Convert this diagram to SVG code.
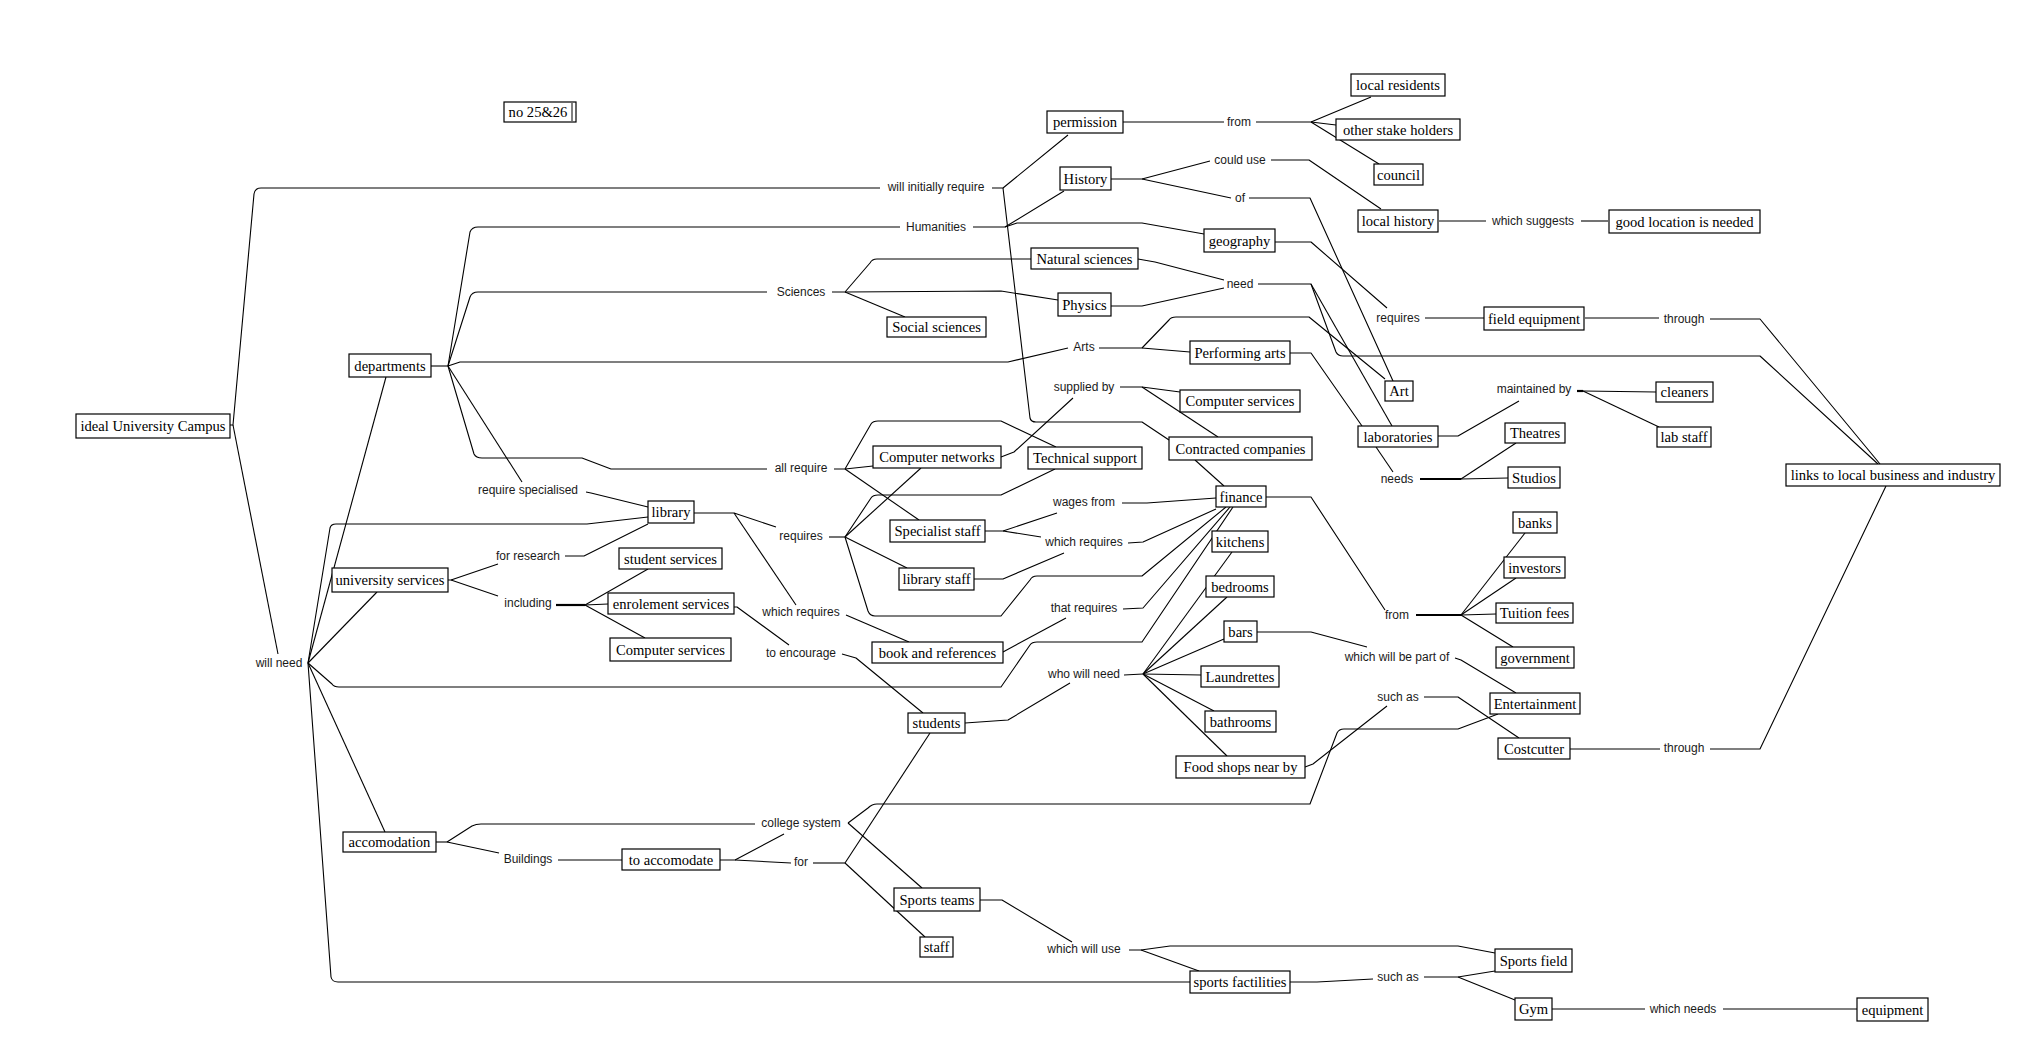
<svg xmlns="http://www.w3.org/2000/svg" width="2039" height="1061" viewBox="0 0 2039 1061">
<style>
.c path{fill:none;stroke:#000;stroke-width:1.1;stroke-linejoin:round}
.c path.t{stroke-width:2.2}
.n rect{fill:#fff;stroke:#000;stroke-width:1.2}
.n text{font-family:"Liberation Serif","Times New Roman",serif;font-size:14.6px;fill:#000;text-anchor:middle}
.l text{font-family:"Liberation Sans",Arial,sans-serif;font-size:12px;fill:#1a1a1a;text-anchor:middle}
</style>
<rect width="2039" height="1061" fill="#fff"/>
<g id="connectors" class="c">
<path d="M230,425 L233,425 L254,194 Q255,188 261,188 L880,188"/>
<path d="M233,425 L278,654"/>
<path d="M992,188 L1003,188 L1068,135"/>
<path d="M1003,188 L1030,418 Q1031,422 1036,422 L1142,422 L1169,440"/>
<path d="M1123,122 L1224,122"/>
<path d="M1256,122 L1311,122 L1371,97"/>
<path d="M1311,122 L1336,125"/>
<path d="M1311,122 L1379,164"/>
<path d="M1111,179 L1142,179 L1210,161"/>
<path d="M1142,179 L1231,198"/>
<path d="M1271,160 L1309,160 L1381,209"/>
<path d="M1249,198 L1310,198 L1393,381"/>
<path d="M1439,221 L1486,221"/>
<path d="M1581,221 L1608,221"/>
<path d="M431,366 L448,366"/>
<path d="M448,366 L470,232 Q472,227 478,227 L900,227"/>
<path d="M973,227 L1005,227 L1064,191"/>
<path d="M1005,227 L1017,223 L1142,223 L1204,234"/>
<path d="M1275,242 L1311,242 L1387,308"/>
<path d="M1425,318 L1484,318"/>
<path d="M1585,318 L1659,318"/>
<path d="M1710,319 L1760,319 L1880,464"/>
<path d="M448,366 L470,297 Q472,292 478,292 L767,292"/>
<path d="M832,292 L845,292 L870,263 Q872,259 877,259 L1031,259"/>
<path d="M845,292 L1001,291 L1058,300"/>
<path d="M845,292 L905,317"/>
<path d="M1138,259 L1155,262 L1224,280"/>
<path d="M1111,306 L1142,306 L1224,288"/>
<path d="M1258,284 L1311,284 L1336,352 Q1338,356 1343,356 L1760,356 L1878,464"/>
<path d="M1311,284 L1392,426"/>
<path d="M448,366 L460,362 L1008,362 L1068,348"/>
<path d="M1099,348 L1142,348 L1190,352"/>
<path d="M1142,348 L1169,320 Q1171,317 1176,317 L1309,317 L1385,379"/>
<path d="M1290,353 L1311,353 L1362,426"/>
<path d="M1438,436 L1458,436 L1519,401"/>
<path class="t" d="M1577,391 L1583,391"/>
<path d="M1583,391 L1656,392"/>
<path d="M1583,391 L1659,427"/>
<path d="M1376,447 L1393,472"/>
<path class="t" d="M1420,479 L1461,479"/>
<path d="M1461,479 L1516,443"/>
<path d="M1461,479 L1508,478"/>
<path d="M1001,457 L1014,452 L1073,398"/>
<path d="M1120,387 L1142,387 L1180,392"/>
<path d="M1142,387 L1218,437"/>
<path d="M1195,460 L1224,486"/>
<path d="M448,366 L474,454 Q476,458 482,458 L582,458 L611,469 L767,469"/>
<path d="M834,469 L845,469 L871,424 Q873,421 878,421 L1001,421 L1056,447"/>
<path d="M845,469 L873,466"/>
<path d="M845,469 L919,520"/>
<path d="M448,366 L522,482"/>
<path d="M586,492 L591,493 L648,507"/>
<path d="M308,663 L386,377"/>
<path d="M308,663 L377,592"/>
<path d="M308,663 L330,528 Q331,524 336,524 L587,524 L648,517"/>
<path d="M308,663 L332,684 Q334,687 339,687 L1001,687 L1030,645 Q1032,642 1037,642 L1142,642 L1233,507"/>
<path d="M308,663 L385,832"/>
<path d="M308,663 L331,977 Q332,982 338,982 L1190,982"/>
<path d="M448,580 L451,580 L498,564"/>
<path d="M451,580 L498,596"/>
<path d="M565,556 L584,556 L648,524"/>
<path class="t" d="M556,605 L585,605"/>
<path d="M585,605 L648,569"/>
<path d="M585,605 L608,604"/>
<path d="M585,605 L645,638"/>
<path d="M734,607 L737,607 L789,645"/>
<path d="M842,654 L856,658 L923,713"/>
<path d="M694,513 L734,513 L776,527"/>
<path d="M734,513 L796,605"/>
<path d="M846,615 L909,642"/>
<path d="M1003,652 L1066,618"/>
<path d="M1123,609 L1143,608 L1230,507"/>
<path d="M829,537 L845,537"/>
<path d="M845,537 L921,468"/>
<path d="M845,537 L871,498 Q873,495 878,495 L1001,495 L1055,469"/>
<path d="M845,537 L907,568"/>
<path d="M845,537 L868,611 Q870,616 875,616 L1001,616 L1030,580 Q1032,576 1037,576 L1142,576 L1226,507"/>
<path d="M985,531 L1003,531 L1057,513"/>
<path d="M1003,531 L1041,537"/>
<path d="M1122,503 L1147,503 L1216,498"/>
<path d="M1128,543 L1143,542 L1216,509"/>
<path d="M974,579 L1003,579 L1064,553"/>
<path d="M965,723 L1008,720 L1070,683"/>
<path d="M1124,675 L1143,674"/>
<path d="M1143,674 L1232,552"/>
<path d="M1143,674 L1227,597"/>
<path d="M1143,674 L1224,639"/>
<path d="M1143,674 L1201,675"/>
<path d="M1143,674 L1214,711"/>
<path d="M1143,674 L1227,756"/>
<path d="M1257,632 L1311,632 L1367,647"/>
<path d="M1455,658 L1461,660 L1516,693"/>
<path d="M1266,497 L1311,497 L1385,610"/>
<path class="t" d="M1416,615 L1461,615"/>
<path d="M1461,615 L1525,533"/>
<path d="M1461,615 L1516,578"/>
<path d="M1461,615 L1496,614"/>
<path d="M1461,615 L1513,647"/>
<path d="M1305,767 L1313,764 L1387,706"/>
<path d="M1424,697 L1458,697 L1519,738"/>
<path d="M1570,749 L1660,749"/>
<path d="M1710,749 L1760,749 L1886,486"/>
<path d="M436,842 L447,842"/>
<path d="M447,842 L472,826 Q476,824 481,824 L755,824"/>
<path d="M447,842 L499,853"/>
<path d="M558,860 L622,860"/>
<path d="M720,860 L735,860 L784,834"/>
<path d="M735,860 L791,863"/>
<path d="M848,823 L868,808 Q872,804 877,804 L1310,804 L1337,733 Q1339,729 1344,729 L1458,729 L1498,714"/>
<path d="M848,823 L922,888"/>
<path d="M813,863 L845,863"/>
<path d="M845,863 L930,733"/>
<path d="M845,863 L925,937"/>
<path d="M980,900 L1002,900 L1072,942"/>
<path d="M1129,950 L1141,950 L1170,946 L1458,946 L1495,953"/>
<path d="M1141,950 L1199,971"/>
<path d="M1290,982 L1317,982 L1373,979"/>
<path d="M1424,977 L1458,977 L1495,971"/>
<path d="M1458,977 L1515,1000"/>
<path d="M1552,1009 L1645,1009"/>
<path d="M1723,1009 L1857,1009"/>
</g>
<g id="labels" class="l">
<text x="936" y="191">will initially require</text>
<text x="1239" y="126">from</text>
<text x="1240" y="164">could use</text>
<text x="1240" y="202">of</text>
<text x="1533" y="225">which suggests</text>
<text x="936" y="231">Humanities</text>
<text x="801" y="296">Sciences</text>
<text x="1240" y="288">need</text>
<text x="1398" y="322">requires</text>
<text x="1684" y="323">through</text>
<text x="1084" y="351">Arts</text>
<text x="1084" y="391">supplied by</text>
<text x="1534" y="393">maintained by</text>
<text x="801" y="472">all require</text>
<text x="1397" y="483">needs</text>
<text x="1084" y="506">wages from</text>
<text x="528" y="494">require specialised</text>
<text x="801" y="540">requires</text>
<text x="1084" y="546">which requires</text>
<text x="528" y="560">for research</text>
<text x="528" y="607">including</text>
<text x="801" y="616">which requires</text>
<text x="1084" y="612">that requires</text>
<text x="1397" y="619">from</text>
<text x="801" y="657">to encourage</text>
<text x="1397" y="661">which will be part of</text>
<text x="279" y="667">will need</text>
<text x="1084" y="678">who will need</text>
<text x="1398" y="701">such as</text>
<text x="1684" y="752">through</text>
<text x="801" y="827">college system</text>
<text x="528" y="863">Buildings</text>
<text x="801" y="866">for</text>
<text x="1084" y="953">which will use</text>
<text x="1398" y="981">such as</text>
<text x="1683" y="1013">which needs</text>
</g>
<g id="n-campus" class="n"><rect x="76" y="414" width="154" height="24"/><text x="153" y="431">ideal University Campus</text></g>
<g id="n-no2526" class="n"><rect x="504" y="102" width="72" height="20"/><line x1="572" y1="103" x2="572" y2="121" stroke="#000"/><text x="538" y="117">no 25&amp;26</text></g>
<g id="n-departments" class="n"><rect x="349" y="354" width="82" height="23"/><text x="390" y="370.5">departments</text></g>
<g id="n-permission" class="n"><rect x="1047" y="111" width="76" height="22"/><text x="1085" y="127">permission</text></g>
<g id="n-local-residents" class="n"><rect x="1351" y="74" width="94" height="22"/><text x="1398" y="90">local residents</text></g>
<g id="n-other-stake-holders" class="n"><rect x="1336" y="119" width="124" height="21"/><text x="1398" y="134.5">other stake holders</text></g>
<g id="n-council" class="n"><rect x="1374" y="164" width="49" height="21"/><text x="1398.5" y="179.5">council</text></g>
<g id="n-history" class="n"><rect x="1060" y="167" width="51" height="23"/><text x="1085.5" y="183.5">History</text></g>
<g id="n-local-history" class="n"><rect x="1358" y="210" width="80" height="22"/><text x="1398" y="226">local history</text></g>
<g id="n-good-location" class="n"><rect x="1609" y="210" width="151" height="23"/><text x="1684.5" y="226.5">good location is needed</text></g>
<g id="n-geography" class="n"><rect x="1204" y="229" width="71" height="23"/><text x="1239.5" y="245.5">geography</text></g>
<g id="n-natural-sciences" class="n"><rect x="1031" y="248" width="107" height="21"/><text x="1084.5" y="263.5">Natural sciences</text></g>
<g id="n-physics" class="n"><rect x="1058" y="293" width="53" height="23"/><text x="1084.5" y="309.5">Physics</text></g>
<g id="n-social-sciences" class="n"><rect x="887" y="317" width="99" height="20"/><text x="936.5" y="332">Social sciences</text></g>
<g id="n-field-equipment" class="n"><rect x="1484" y="307" width="100" height="23"/><text x="1534" y="323.5">field equipment</text></g>
<g id="n-performing-arts" class="n"><rect x="1190" y="341" width="100" height="23"/><text x="1240" y="357.5">Performing arts</text></g>
<g id="n-art" class="n"><rect x="1385" y="381" width="28" height="20"/><text x="1399" y="396">Art</text></g>
<g id="n-computer-services-1" class="n"><rect x="1180" y="390" width="120" height="22"/><text x="1240" y="406">Computer services</text></g>
<g id="n-cleaners" class="n"><rect x="1656" y="382" width="57" height="20"/><text x="1684.5" y="397">cleaners</text></g>
<g id="n-laboratories" class="n"><rect x="1358" y="426" width="80" height="21"/><text x="1398" y="441.5">laboratories</text></g>
<g id="n-lab-staff" class="n"><rect x="1657" y="427" width="54" height="20"/><text x="1684" y="442">lab staff</text></g>
<g id="n-theatres" class="n"><rect x="1505" y="423" width="60" height="20"/><text x="1535" y="438">Theatres</text></g>
<g id="n-studios" class="n"><rect x="1508" y="467" width="52" height="21"/><text x="1534" y="482.5">Studios</text></g>
<g id="n-links" class="n"><rect x="1786" y="464" width="214" height="22"/><text x="1893" y="480">links to local business and industry</text></g>
<g id="n-contracted-companies" class="n"><rect x="1169" y="437" width="143" height="23"/><text x="1240.5" y="453.5">Contracted companies</text></g>
<g id="n-computer-networks" class="n"><rect x="873" y="446" width="128" height="22"/><text x="937" y="462">Computer networks</text></g>
<g id="n-technical-support" class="n"><rect x="1028" y="447" width="114" height="22"/><text x="1085" y="463">Technical support</text></g>
<g id="n-finance" class="n"><rect x="1216" y="486" width="50" height="21"/><text x="1241" y="501.5">finance</text></g>
<g id="n-library" class="n"><rect x="648" y="501" width="46" height="22"/><text x="671" y="517">library</text></g>
<g id="n-specialist-staff" class="n"><rect x="890" y="520" width="95" height="22"/><text x="937.5" y="536">Specialist staff</text></g>
<g id="n-kitchens" class="n"><rect x="1212" y="531" width="56" height="21"/><text x="1240" y="546.5">kitchens</text></g>
<g id="n-student-services" class="n"><rect x="619" y="548" width="103" height="21"/><text x="670.5" y="563.5">student services</text></g>
<g id="n-library-staff" class="n"><rect x="899" y="568" width="75" height="22"/><text x="936.5" y="584">library staff</text></g>
<g id="n-university-services" class="n"><rect x="332" y="568" width="116" height="24"/><text x="390" y="585">university services</text></g>
<g id="n-enrolement-services" class="n"><rect x="608" y="593" width="126" height="21"/><text x="671" y="608.5">enrolement services</text></g>
<g id="n-bedrooms" class="n"><rect x="1206" y="576" width="68" height="21"/><text x="1240" y="591.5">bedrooms</text></g>
<g id="n-banks" class="n"><rect x="1513" y="512" width="44" height="21"/><text x="1535" y="527.5">banks</text></g>
<g id="n-investors" class="n"><rect x="1504" y="557" width="61" height="21"/><text x="1534.5" y="572.5">investors</text></g>
<g id="n-tuition-fees" class="n"><rect x="1496" y="603" width="77" height="20"/><text x="1534.5" y="618">Tuition fees</text></g>
<g id="n-bars" class="n"><rect x="1224" y="621" width="33" height="21"/><text x="1240.5" y="636.5">bars</text></g>
<g id="n-computer-services-2" class="n"><rect x="610" y="638" width="121" height="23"/><text x="670.5" y="654.5">Computer services</text></g>
<g id="n-book-references" class="n"><rect x="872" y="642" width="131" height="21"/><text x="937.5" y="657.5">book and references</text></g>
<g id="n-government" class="n"><rect x="1496" y="647" width="78" height="21"/><text x="1535" y="662.5">government</text></g>
<g id="n-laundrettes" class="n"><rect x="1201" y="666" width="78" height="21"/><text x="1240" y="681.5">Laundrettes</text></g>
<g id="n-entertainment" class="n"><rect x="1490" y="693" width="90" height="21"/><text x="1535" y="708.5">Entertainment</text></g>
<g id="n-students" class="n"><rect x="908" y="713" width="57" height="20"/><text x="936.5" y="728">students</text></g>
<g id="n-bathrooms" class="n"><rect x="1205" y="711" width="71" height="21"/><text x="1240.5" y="726.5">bathrooms</text></g>
<g id="n-costcutter" class="n"><rect x="1498" y="738" width="72" height="21"/><text x="1534" y="753.5">Costcutter</text></g>
<g id="n-food-shops" class="n"><rect x="1176" y="756" width="129" height="22"/><text x="1240.5" y="772">Food shops near by</text></g>
<g id="n-accomodation" class="n"><rect x="343" y="832" width="93" height="20"/><text x="389.5" y="847">accomodation</text></g>
<g id="n-to-accomodate" class="n"><rect x="622" y="849" width="98" height="21"/><text x="671" y="864.5">to accomodate</text></g>
<g id="n-sports-teams" class="n"><rect x="894" y="888" width="86" height="23"/><text x="937" y="904.5">Sports teams</text></g>
<g id="n-staff" class="n"><rect x="920" y="937" width="33" height="20"/><text x="936.5" y="952">staff</text></g>
<g id="n-sports-field" class="n"><rect x="1495" y="949" width="77" height="23"/><text x="1533.5" y="965.5">Sports field</text></g>
<g id="n-sports-facilities" class="n"><rect x="1190" y="971" width="100" height="22"/><text x="1240" y="987">sports factilities</text></g>
<g id="n-gym" class="n"><rect x="1515" y="998" width="37" height="22"/><text x="1533.5" y="1014">Gym</text></g>
<g id="n-equipment" class="n"><rect x="1857" y="998" width="71" height="23"/><text x="1892.5" y="1014.5">equipment</text></g>
</svg>
